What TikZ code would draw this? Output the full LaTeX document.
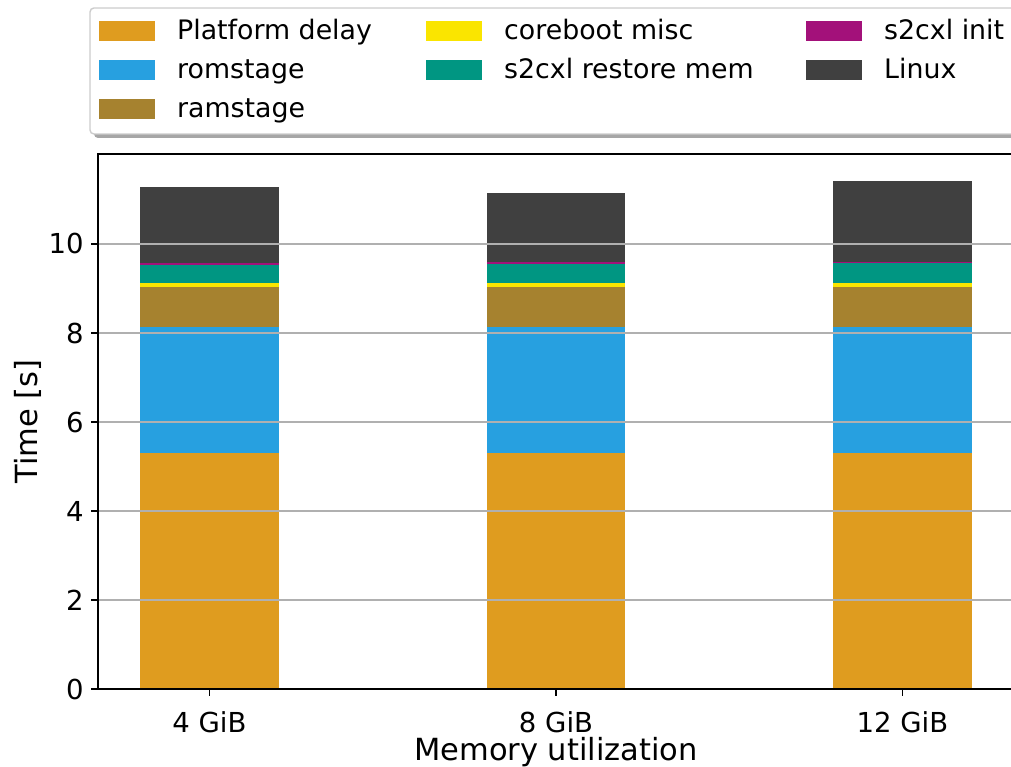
\documentclass[tikz,border=0pt]{standalone}
\usepackage{fontspec}
\setmainfont{DejaVu Sans}
\usetikzlibrary{calc}

\definecolor{seg1}{HTML}{DF9C1F}
\definecolor{seg2}{HTML}{27A0E0}
\definecolor{seg3}{HTML}{A6822F}
\definecolor{seg4}{HTML}{FAE500}
\definecolor{seg5}{HTML}{009682}
\definecolor{seg6}{HTML}{A3117A}
\definecolor{seg7}{HTML}{404040}
\definecolor{gridgray}{HTML}{B0B0B0}
\definecolor{legedge}{HTML}{CCCCCC}

\tikzset{
  spine/.style={line width=1.6pt,black},
  gridline/.style={line width=1.6pt,gridgray},
  ticklbl/.style={font=\fontsize{27.5}{33}\selectfont,inner sep=0pt},
  axlbl/.style={font=\fontsize{30.5}{36}\selectfont,inner sep=0pt,anchor=base},
  leglbl/.style={font=\fontsize{26.8}{32}\selectfont,inner sep=0pt,anchor=base west},
}

\begin{document}
\begin{tikzpicture}[x=1pt,y=1pt]
 \useasboundingbox (0,0) rectangle (1011,767);
 \clip (0,0) rectangle (1011,767);
 %
 \begin{scope}[shift={(209.5pt,78pt)},x=346.5pt,y=44.5pt]
  \coordinate (sw) at (-0.322,0);
  \coordinate (ne) at (2.322,12.02);
  % stacked bars
  \foreach \i/\tops in {0/{5.30,8.135,9.034,9.124,9.521,9.573,11.28},
                        1/{5.30,8.135,9.034,9.124,9.557,9.602,11.146},
                        2/{5.30,8.135,9.034,9.124,9.573,9.602,11.416}}
   \foreach \t [count=\k, remember=\t as \b (initially 0)] in \tops
    \fill[seg\k] (\i-0.2,\b) rectangle (\i+0.2,\t);
  %
  \foreach \v in {2,4,...,10}
   \draw[gridline] (sw|-0,\v) -- (ne|-0,\v);
  \draw[spine] (sw) rectangle (ne);
  %
  \foreach \v in {0,2,...,10} {
   \draw[spine] (sw|-0,\v) -- ++(-7pt,0);
   \node[ticklbl,anchor=east,xshift=-14pt] (yt\v) at (sw|-0,\v) {\v};
  }
  \foreach \i/\lab in {0/4 GiB,1/8 GiB,2/12 GiB} {
   \draw[spine] (\i,0) -- ++(0,-7pt);
   \node[ticklbl,anchor=base,yshift=-44pt] (xt\i) at (\i,0) {\lab};
  }
  \node[axlbl,yshift=-72pt] (xlab) at (1,0) {Memory utilization};
 \end{scope}
 \node[axlbl,rotate=90] (ylab) at (37,345.5) {Time [s]};
 %
 % legend
 \fill[black!35,rounded corners=4pt] (94,629) rectangle (1030,755);
 \draw[legedge,fill=white,line width=1.4pt,rounded corners=4pt] (90,633) rectangle (1026,759);
 \foreach \k/\cx/\cy/\lab in {1/99/736/Platform delay,2/99/697/romstage,3/99/658/ramstage,
                             4/426/736/coreboot misc,5/426/697/s2cxl restore mem,
                             6/806/736/s2cxl init,7/806/697/Linux} {
  \fill[seg\k] (\cx,\cy-9.8) rectangle ++(56,19.6);
  \node[leglbl] (leg\k) at (\cx+78,\cy-8.5) {\lab};
 }
\end{tikzpicture}
\end{document}
